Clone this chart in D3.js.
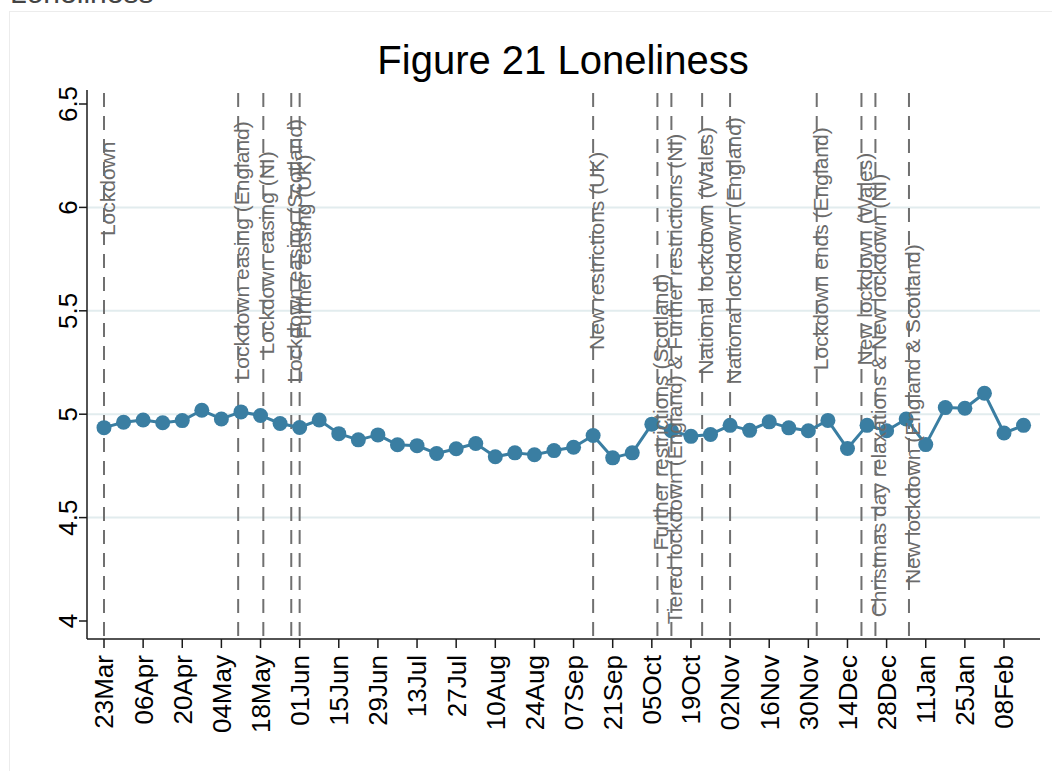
<!DOCTYPE html>
<html>
<head>
<meta charset="utf-8">
<script src="https://cdn.jsdelivr.net/npm/d3@7"></script>
<style>
  html, body { margin: 0; padding: 0; background: #ffffff; }
  svg { display: block; font-family: "Liberation Sans", Arial, sans-serif; }
</style>
</head>
<body>
<svg id="chart" width="1052" height="771"></svg>
<script>
// ---------------- DATA ----------------
const chartTitle = "Figure 21 Loneliness";
const pageHeading = "Loneliness";

const weekDates = [
  "2020-03-23","2020-03-30","2020-04-06","2020-04-13","2020-04-20","2020-04-27",
  "2020-05-04","2020-05-11","2020-05-18","2020-05-25","2020-06-01","2020-06-08",
  "2020-06-15","2020-06-22","2020-06-29","2020-07-06","2020-07-13","2020-07-20",
  "2020-07-27","2020-08-03","2020-08-10","2020-08-17","2020-08-24","2020-08-31",
  "2020-09-07","2020-09-14","2020-09-21","2020-09-28","2020-10-05","2020-10-12",
  "2020-10-19","2020-10-26","2020-11-02","2020-11-09","2020-11-16","2020-11-23",
  "2020-11-30","2020-12-07","2020-12-14","2020-12-21","2020-12-28","2021-01-04",
  "2021-01-11","2021-01-18","2021-01-25","2021-02-01","2021-02-08","2021-02-15"
];
const lonelinessValues = [
  4.935, 4.961, 4.972, 4.959, 4.969, 5.019,
  4.977, 5.011, 4.994, 4.955, 4.936, 4.972,
  4.906, 4.876, 4.900, 4.852, 4.848, 4.810,
  4.833, 4.858, 4.794, 4.813, 4.804, 4.824,
  4.840, 4.897, 4.789, 4.813, 4.952, 4.920,
  4.893, 4.902, 4.946, 4.922, 4.963, 4.934,
  4.920, 4.970, 4.834, 4.946, 4.920, 4.977,
  4.853, 5.032, 5.029, 5.101, 4.909, 4.946
];

const eventDates = [
  "2020-03-23","2020-05-10","2020-05-19","2020-05-29","2020-06-01",
  "2020-09-14","2020-10-07","2020-10-12","2020-10-23","2020-11-02",
  "2020-12-03","2020-12-19","2020-12-24","2021-01-05"
];
const eventLabels = [
  "Lockdown",
  "Lockdown easing (England)",
  "Lockdown easing (NI)",
  "Lockdown easing (Scotland)",
  "Further easing (UK)",
  "New restrictions (UK)",
  "Further restrictions (Scotland)",
  "Tiered lockdown (England) & Further restrictions (NI)",
  "National lockdown (Wales)",
  "National lockdown (England)",
  "Lockdown ends (England)",
  "New lockdown (Wales)",
  "Christmas day relaxations & New lockdown (NI)",
  "New lockdown (England & Scotland)"
];
// y value (data units) at which each vertical label is centred
const eventLabelAt = [6.09, 5.79, 5.78, 5.79, 5.81, 5.79, 5.01, 5.17, 5.79, 5.79, 5.80, 5.75, 5.09, 5.00];

const yTicks = [4, 4.5, 5, 5.5, 6, 6.5];
const yGridTicks = [4.5, 5, 5.5, 6];
const xTickDates = [
  "2020-03-23","2020-04-06","2020-04-20","2020-05-04","2020-05-18","2020-06-01",
  "2020-06-15","2020-06-29","2020-07-13","2020-07-27","2020-08-10","2020-08-24",
  "2020-09-07","2020-09-21","2020-10-05","2020-10-19","2020-11-02","2020-11-16",
  "2020-11-30","2020-12-14","2020-12-28","2021-01-11","2021-01-25","2021-02-08"
];

// ---------------- LAYOUT ----------------
const parse = d3.utcParse("%Y-%m-%d");
const fmt = d3.utcFormat("%d%b");
const plot = { left: 87, right: 1040, top: 90, bottom: 639 };

const x = d3.scaleUtc()
  .domain([parse("2020-03-23"), parse("2021-02-08")])
  .range([104, 1004]);
const y = d3.scaleLinear().domain([4, 6.5]).range([621, 104]);

const series = weekDates.map((d, i) => ({ date: parse(d), value: lonelinessValues[i] }));
const events = eventDates.map((d, i) => ({ date: parse(d), label: eventLabels[i], at: eventLabelAt[i] }));

const svg = d3.select("#chart");
const C = {
  series: "#3a7ea2",
  event: "#707070",
  eventText: "#6b6b6b",
  grid: "#e2ecee",
  axis: "#1a1a1a"
};

// faint outer frame and cut-off heading
svg.append("rect").attr("x", 9.5).attr("y", 11.5).attr("width", 1060).attr("height", 780)
  .attr("fill", "#ffffff").attr("stroke", "#ececec").attr("stroke-width", 1);
svg.append("text").attr("x", 10).attr("y", 3).attr("font-size", 30).attr("fill", "#444")
  .text(pageHeading);

// title
svg.append("text").attr("x", 563).attr("y", 74).attr("text-anchor", "middle")
  .attr("font-size", 40).attr("fill", "#000").text(chartTitle);

// gridlines
svg.append("g").selectAll("line").data(yGridTicks).join("line")
  .attr("x1", plot.left + 1).attr("x2", plot.right)
  .attr("y1", d => y(d)).attr("y2", d => y(d))
  .attr("stroke", C.grid).attr("stroke-width", 2);

// event lines
svg.append("g").selectAll("line").data(events).join("line")
  .attr("x1", d => x(d.date)).attr("x2", d => x(d.date))
  .attr("y1", plot.top + 3).attr("y2", plot.bottom)
  .attr("stroke", C.event).attr("stroke-width", 2)
  .attr("stroke-dasharray", "14 9");

// series
svg.append("path").datum(series)
  .attr("fill", "none").attr("stroke", C.series).attr("stroke-width", 3)
  .attr("stroke-linejoin", "round")
  .attr("d", d3.line().x(d => x(d.date)).y(d => y(d.value)));
svg.append("g").selectAll("circle").data(series).join("circle")
  .attr("cx", d => x(d.date)).attr("cy", d => y(d.value)).attr("r", 7.5)
  .attr("fill", C.series);

// event labels (vertical, centred at given y)
svg.append("g").selectAll("text").data(events).join("text")
  .attr("transform", d => `translate(${x(d.date)},${y(d.at)}) rotate(-90)`)
  .attr("text-anchor", "middle").attr("y", 11)
  .attr("font-size", 21).attr("fill", C.eventText)
  .text(d => d.label);

// axes
const yAxis = svg.append("g");
yAxis.append("line").attr("x1", plot.left).attr("x2", plot.left)
  .attr("y1", plot.top).attr("y2", plot.bottom).attr("stroke", C.axis).attr("stroke-width", 1.5);
yAxis.selectAll("line.tick").data(yTicks).join("line").attr("class", "tick")
  .attr("x1", plot.left - 8).attr("x2", plot.left)
  .attr("y1", d => y(d)).attr("y2", d => y(d)).attr("stroke", C.axis).attr("stroke-width", 1.5);
yAxis.selectAll("text").data(yTicks).join("text")
  .attr("transform", d => `translate(${plot.left - 10},${y(d)}) rotate(-90)`)
  .attr("text-anchor", "middle").attr("font-size", 26).attr("fill", "#000")
  .text(d => d3.format("")(d));

const xAxis = svg.append("g");
xAxis.append("line").attr("x1", plot.left).attr("x2", plot.right)
  .attr("y1", plot.bottom).attr("y2", plot.bottom).attr("stroke", C.axis).attr("stroke-width", 1.5);
const xt = xTickDates.map(parse);
xAxis.selectAll("line.tick").data(xt).join("line").attr("class", "tick")
  .attr("x1", d => x(d)).attr("x2", d => x(d))
  .attr("y1", plot.bottom).attr("y2", plot.bottom + 9).attr("stroke", C.axis).attr("stroke-width", 1.5);
xAxis.selectAll("text").data(xt).join("text")
  .attr("transform", d => `translate(${x(d)},${plot.bottom + 16}) rotate(-90)`)
  .attr("text-anchor", "end").attr("dy", "0.36em").attr("font-size", 26).attr("fill", "#000")
  .text(d => fmt(d));
</script>
</body>
</html>
